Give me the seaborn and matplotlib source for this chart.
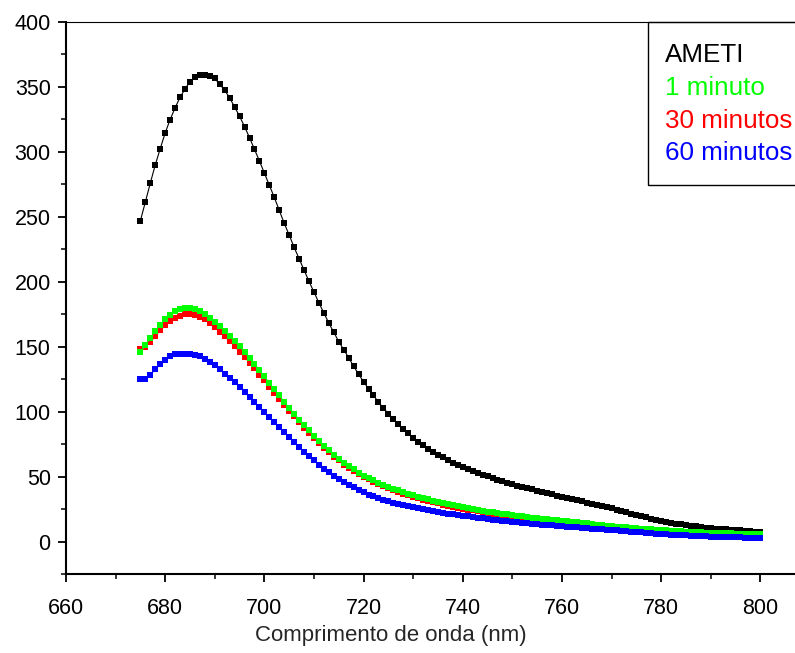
import matplotlib
matplotlib.use("Agg")
import matplotlib.pyplot as plt
from matplotlib.lines import Line2D
from matplotlib.patches import Rectangle
import numpy as np
import pandas as pd
import seaborn as sns

# comprimento de onda (nm), um ponto por nm
wavelength = np.arange(675, 801)

ameti = [
    247, 261.4, 276, 290, 302.5, 314.6, 324.9, 334, 342, 348.5,
    354, 357.7, 359.2, 359.2, 358.5, 356.5, 352, 347.5, 341.5, 334.6,
    327.4, 319.5, 311, 302, 293, 283.7, 274.3, 265, 255, 245,
    236, 226.5, 217.8, 209, 200.3, 192, 183.8, 175.9, 168.2, 161,
    154, 147.7, 141.5, 134.8, 128.9, 123, 117.6, 112.5, 107.3, 102.7,
    98.5, 94.3, 90.4, 86.7, 83.2, 80, 77, 74.2, 71.6, 69.1,
    66.8, 64.7, 62.7, 60.8, 59, 57.3, 55.7, 54.2, 52.8, 51.4,
    50.1, 48.8, 47.6, 46.4, 45.3, 44.2, 43.1, 42.1, 41.1, 40.1,
    39.1, 38.2, 37.2, 36.3, 35.4, 34.5, 33.6, 32.7, 31.8, 30.9,
    30, 29.1, 28.2, 27.3, 26.4, 25.5, 24.5, 23.5, 22.5, 21.5,
    20.5, 19.5, 18.6, 17.7, 16.8, 16, 15.2, 14.5, 13.8, 13.2,
    12.6, 12.1, 11.6, 11.2, 10.8, 10.4, 10, 9.7, 9.4, 9.1,
    8.8, 8.5, 8.2, 7.9, 7.6, 7.3,
]

min_1 = [
    145.8, 151, 156.6, 162, 167, 171, 174.6, 177.2, 178.7, 179.7,
    179.7, 178.7, 177.2, 174.9, 172, 169, 165.6, 162, 158.5, 154.3,
    150.2, 145.8, 141.2, 136.9, 131.7, 127.1, 122, 117.1, 112.5, 107.3,
    103, 98.4, 93.8, 89.4, 85.5, 81.1, 77.3, 73.4, 70.1, 66.5,
    63.7, 60.3, 57.8, 55.5, 52.9, 50.8, 48.8, 47, 45.3, 43.7,
    42.2, 40.8, 39.4, 38.1, 36.9, 35.7, 34.6, 33.5, 32.5, 31.5,
    30.6, 29.7, 28.8, 28, 27.2, 26.4, 25.7, 25, 24.3, 23.7,
    23.1, 22.5, 21.9, 21.4, 20.9, 20.4, 19.9, 19.4, 18.9, 18.4,
    17.9, 17.5, 17.1, 16.7, 16.3, 15.9, 15.5, 15.1, 14.7, 14.3,
    13.9, 13.5, 13.1, 12.7, 12.3, 11.9, 11.5, 11.2, 10.9, 10.6,
    10.3, 10, 9.7, 9.4, 9.1, 8.8, 8.5, 8.3, 8.1, 7.9,
    7.7, 7.5, 7.3, 7.1, 6.9, 6.7, 6.5, 6.4, 6.3, 6.2,
    6.1, 6, 5.9, 5.8, 5.7, 5.6,
]

min_30 = [
    148, 150, 153.5, 158, 162.5, 166.5, 169.8, 172.3, 174, 175,
    175.2, 174.6, 173.2, 171, 168.2, 165, 161.6, 158, 154.3, 150.3,
    146.2, 142, 137.6, 133.3, 128.5, 124, 119.2, 114.5, 110, 105,
    100.8, 96.3, 91.8, 87.5, 83.7, 79.5, 75.7, 72, 68.7, 65.3,
    62.4, 59.2, 56.7, 54.4, 51.9, 49.8, 47.8, 46, 44.2, 42.6,
    41, 39.6, 38.2, 36.9, 35.7, 34.5, 33.3, 32.3, 31.3, 30.3,
    29.4, 28.5, 27.7, 26.9, 26.1, 25.3, 24.6, 24, 23.3, 22.7,
    22.1, 21.5, 21, 20.5, 20, 19.5, 19, 18.5, 18, 17.6,
    17.1, 16.7, 16.3, 15.9, 15.5, 15.1, 14.7, 14.3, 14, 13.6,
    13.2, 12.8, 12.5, 12.1, 11.7, 11.4, 11, 10.7, 10.4, 10.1,
    9.8, 9.5, 9.2, 8.9, 8.7, 8.4, 8.1, 7.9, 7.7, 7.5,
    7.3, 7.1, 6.9, 6.7, 6.5, 6.3, 6.2, 6.1, 6, 5.9,
    5.8, 5.7, 5.6, 5.5, 5.4, 5.3,
]

min_60 = [
    125.3, 125.5, 128.4, 132.5, 136.4, 140, 142.5, 144.1, 144.6, 144.6,
    144.6, 143.8, 142.5, 140.7, 138.1, 135.6, 132.5, 129.2, 126.1, 122.7,
    118.9, 115, 111.2, 107.3, 103.5, 99.6, 95.8, 91.9, 88, 84.2,
    80.4, 76.5, 72.7, 68.8, 65.5, 62.4, 59.3, 56, 53.4, 50.8,
    48.3, 45.7, 43.7, 41.8, 39.8, 38, 36.2, 34.7, 33.3, 32.1,
    31, 30, 29, 28.1, 27.2, 26.4, 25.6, 24.8, 24.1, 23.4,
    22.7, 22.1, 21.5, 20.9, 20.3, 19.8, 19.3, 18.8, 18.3, 17.8,
    17.3, 16.9, 16.5, 16.1, 15.7, 15.3, 14.9, 14.5, 14.1, 13.7,
    13.3, 13, 12.7, 12.4, 12.1, 11.8, 11.5, 11.2, 10.9, 10.6,
    10.3, 10, 9.7, 9.4, 9.1, 8.8, 8.5, 8.2, 7.9, 7.6,
    7.3, 7, 6.7, 6.4, 6.1, 5.8, 5.5, 5.3, 5.1, 4.9,
    4.7, 4.5, 4.3, 4.1, 3.9, 3.8, 3.7, 3.6, 3.5, 3.4,
    3.3, 3.2, 3.1, 3, 2.9, 2.8,
]

series_names = ["AMETI", "1 minuto", "30 minutos", "60 minutos"]
series_colors = ["#000000", "#00ff00", "#ff0000", "#0000ff"]
series_values = [ameti, min_1, min_30, min_60]
# ordem de desenho: preto, vermelho, verde, azul (azul por cima)
draw_order = [0, 2, 1, 3]

sns.set_style("ticks")
plt.rcParams["font.family"] = ["Liberation Sans", "DejaVu Sans"]

fig = plt.figure(figsize=(7.95, 6.53), dpi=100)
ax = fig.add_axes([66 / 795, 1 - 574 / 653, 734 / 795, 552 / 653])

for i in draw_order:
    df = pd.DataFrame({"wl": wavelength, "valor": series_values[i]})
    msize = 4.0 if i == 0 else 4.8
    sns.lineplot(data=df, x="wl", y="valor", color=series_colors[i], marker="s",
                 markersize=msize, markeredgewidth=0, linewidth=0.8, ax=ax)

ax.set_xlim(660, 808)
ax.set_ylim(-25, 400)
ax.set_xticks(np.arange(660, 801, 20))
ax.set_xticks(np.arange(670, 801, 20), minor=True)
ax.set_yticks(np.arange(0, 401, 50))
ax.set_yticks(np.arange(-25, 400, 50), minor=True)
ax.tick_params(axis="both", which="major", direction="out", length=6, width=1.3,
               labelsize=15.5, colors="black")
ax.tick_params(axis="x", which="major", pad=11)
ax.tick_params(axis="y", which="major", pad=5)
ax.tick_params(axis="both", which="minor", direction="out", length=3.5, width=1.3)
ax.tick_params(top=False, right=False)

for side in ["left", "bottom"]:
    ax.spines[side].set_linewidth(1.5)
    ax.spines[side].set_color("black")
ax.spines["top"].set_linewidth(0.8)
ax.spines["top"].set_color("black")
ax.spines["right"].set_visible(False)

ax.set_ylabel("")
ax.set_xlabel("Comprimento de onda (nm)", fontsize=16)
ax.xaxis.set_label_coords((391 - 66) / 734, -0.093)

# caixa da legenda (sai pela borda direita, como no original)
fig.patches.append(Rectangle((648 / 795, 1 - 185 / 653), 170 / 795, 163 / 653,
                             transform=fig.transFigure, fill=False,
                             edgecolor="black", linewidth=1.0))

handles = [Line2D([], [], linestyle="none") for _ in series_names]
fig.legend(handles, series_names, loc="upper left",
           bbox_to_anchor=(665 / 795, 1 - 43 / 653), borderaxespad=0,
           borderpad=0, handlelength=0, handletextpad=0,
           labelcolor=series_colors, fontsize=18.7, labelspacing=0.34,
           frameon=False)

fig.savefig("out.png", dpi=100)
